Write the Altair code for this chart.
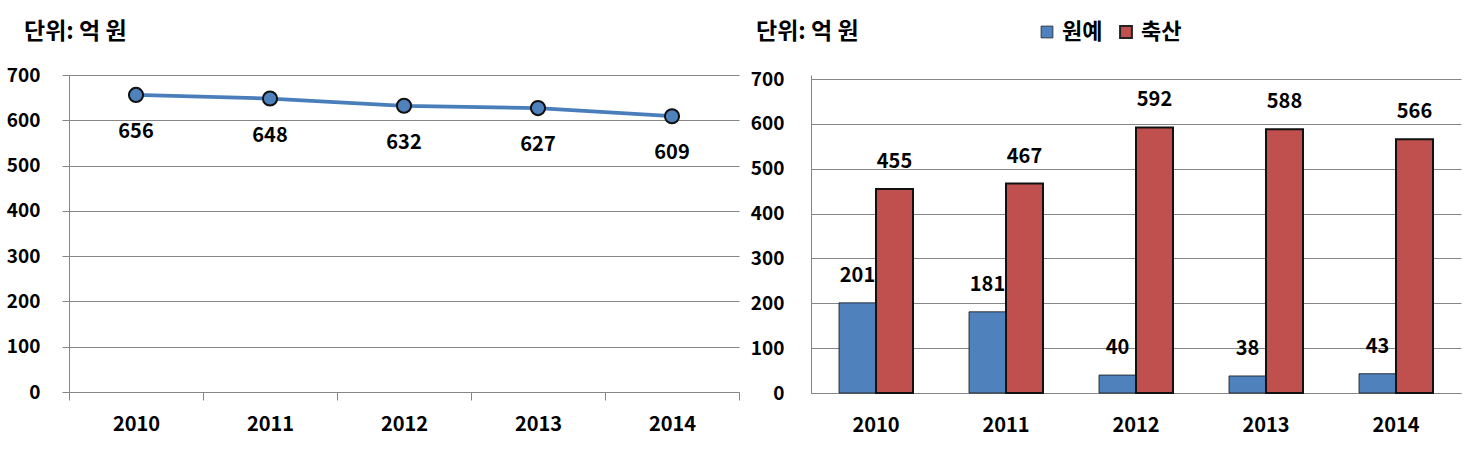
import altair as alt
import pandas as pd

FONT = "Noto Sans CJK KR"

years = ["2010", "2011", "2012", "2013", "2014"]
total = [656, 648, 632, 627, 609]
series_names = ["원예", "축산"]
horticulture = [201, 181, 40, 38, 43]
livestock = [455, 467, 592, 588, 566]
unit_label = "단위: 억 원"
y_ticks = [0, 100, 200, 300, 400, 500, 600, 700]
colors = ["#4F81BD", "#C0504D"]

GRID = "#868686"

df_total = pd.DataFrame({"year": years, "value": total})
df_bars = pd.DataFrame({
    "year": years * 2,
    "series": [series_names[0]] * len(years) + [series_names[1]] * len(years),
    "value": horticulture + livestock,
})
df_title = pd.DataFrame({"t": [unit_label]})

# ---------------- left chart ----------------
x_left = alt.X(
    "year:N",
    title=None,
    bandPosition=0.5,
    scale=alt.Scale(type="band", paddingInner=0, paddingOuter=0),
    axis=alt.Axis(labelAngle=0, tickBand="extent", ticks=True, tickSize=8,
                  labelPadding=14, labelFontSize=20, grid=False),
)
y_left = alt.Y(
    "value:Q",
    title=None,
    scale=alt.Scale(domain=[0, 700], nice=False),
    axis=alt.Axis(values=y_ticks, tickSize=7, labelPadding=22, labelFontSize=19,
                  grid=True, minExtent=69, maxExtent=69),
)

lbase = alt.Chart(df_total)
line = lbase.mark_line(color="#4A7EBB", strokeWidth=3.8).encode(x=x_left, y=y_left)
pts = lbase.mark_point(filled=True, shape="circle", size=200, fill="#4F81BD",
                       stroke="#111111", strokeWidth=2, opacity=1).encode(x=x_left, y=y_left)
lbl = lbase.mark_text(dy=37, fontSize=20, fontWeight="bold", font=FONT, color="black").encode(
    x=x_left, y=y_left, text="value:Q")
ltitle = alt.Chart(df_title).mark_text(align="left", baseline="middle", fontSize=23,
                                        fontWeight="bold", font=FONT, color="black").encode(
    x=alt.value(-45), y=alt.value(-43), text="t:N")

left = alt.layer(line, pts, lbl, ltitle).properties(width=670, height=317)

# ---------------- right chart ----------------
x_right = alt.X(
    "year:N",
    title=None,
    scale=alt.Scale(paddingInner=0, paddingOuter=0),
    axis=alt.Axis(labelAngle=0, ticks=False, labelPadding=22, labelFontSize=20, grid=False),
)
y_right = alt.Y(
    "value:Q",
    title=None,
    scale=alt.Scale(domain=[0, 709], nice=False),
    axis=alt.Axis(values=y_ticks, ticks=False, labelPadding=27, labelFontSize=19,
                  grid=True, minExtent=71, maxExtent=71),
)
xo = alt.XOffset("series:N", scale=alt.Scale(domain=series_names, paddingInner=0, paddingOuter=0.757))

rbase = alt.Chart(df_bars)
bars = rbase.mark_bar(stroke="#111111").encode(
    x=x_right, y=y_right, xOffset=xo,
    fill=alt.Fill("series:N", scale=alt.Scale(domain=series_names, range=colors),
                  legend=alt.Legend(title=None, orient="none", legendX=225, legendY=-54,
                                    direction="horizontal", symbolType="square",
                                    symbolSize=140, symbolStrokeColor="#222222",
                                    symbolStrokeWidth=1, labelFontSize=22,
                                    labelFont=FONT, labelFontWeight="bold",
                                    labelColor="black", labelOffset=4, columnPadding=12)),
    strokeWidth=alt.StrokeWidth("series:N", scale=alt.Scale(domain=series_names, range=[0.8, 2]),
                                legend=None),
)
blbl = rbase.mark_text(dy=-27, fontSize=20, fontWeight="bold", font=FONT, color="black").encode(
    x=x_right, y=y_right, xOffset=xo, text="value:Q")
rtitle = alt.Chart(df_title).mark_text(align="left", baseline="middle", fontSize=23,
                                        fontWeight="bold", font=FONT, color="black").encode(
    x=alt.value(-55), y=alt.value(-43), text="t:N")

right = alt.layer(bars, blbl, rtitle).properties(width=650, height=318)

chart = alt.hconcat(left, right, spacing=0).resolve_scale(
    fill="independent", strokeWidth="independent"
).resolve_legend(fill="independent", strokeWidth="independent").properties(
    padding={"left": 0, "top": 21, "right": 5, "bottom": 5},
    background="white",
).configure_view(stroke=None).configure_axis(
    labelFont=FONT, labelFontWeight="bold", labelColor="black",
    domainColor=GRID, gridColor=GRID, tickColor=GRID, domainWidth=1, gridWidth=1,
)

chart.save("out.html", embed_options={"renderer": "svg", "actions": False})
